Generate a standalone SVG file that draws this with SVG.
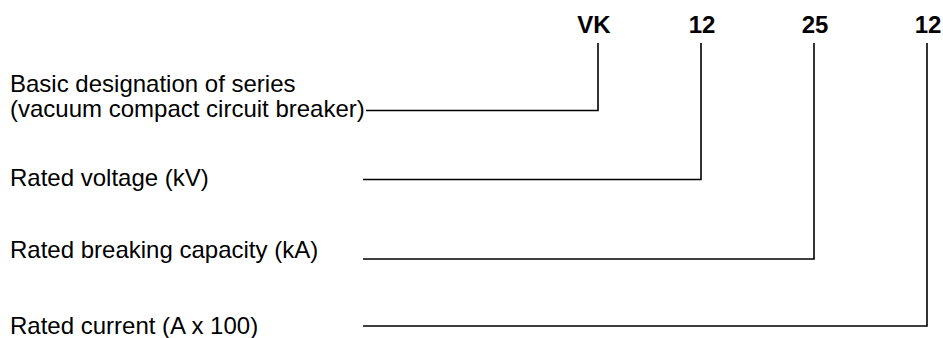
<svg xmlns="http://www.w3.org/2000/svg" width="943" height="338" viewBox="0 0 943 338">
<style>
.lbl{font-family:"Liberation Sans",Arial,sans-serif;font-size:24px;fill:#000}
.code{font-family:"Liberation Sans",Arial,sans-serif;font-size:24px;font-weight:bold;fill:#000;text-anchor:middle}
.conn{fill:none;stroke:#000;stroke-width:1.6}
</style>
<rect width="943" height="338" fill="#fff"/>
<g id="code-vk"><text class="code" x="594" y="33">VK</text></g>
<g id="code-12a"><text class="code" x="702" y="33">12</text></g>
<g id="code-25"><text class="code" x="815" y="33">25</text></g>
<g id="code-12b"><text class="code" x="928" y="33">12</text></g>
<g id="label-series"><text class="lbl" x="10" y="92">Basic designation of series</text><text class="lbl" x="10" y="117">(vacuum compact circuit breaker)</text></g>
<g id="label-voltage"><text class="lbl" x="10" y="186">Rated voltage (kV)</text></g>
<g id="label-breaking"><text class="lbl" x="10" y="258">Rated breaking capacity (kA)</text></g>
<g id="label-current"><text class="lbl" x="10" y="334">Rated current (A x 100)</text></g>
<g id="connectors">
<polyline class="conn" points="366,110.5 598,110.5 598,43"/>
<polyline class="conn" points="363,179.5 701,179.5 701,43"/>
<polyline class="conn" points="363,259 814,259 814,43"/>
<polyline class="conn" points="363,326 927,326 927,43"/>
</g>
</svg>
